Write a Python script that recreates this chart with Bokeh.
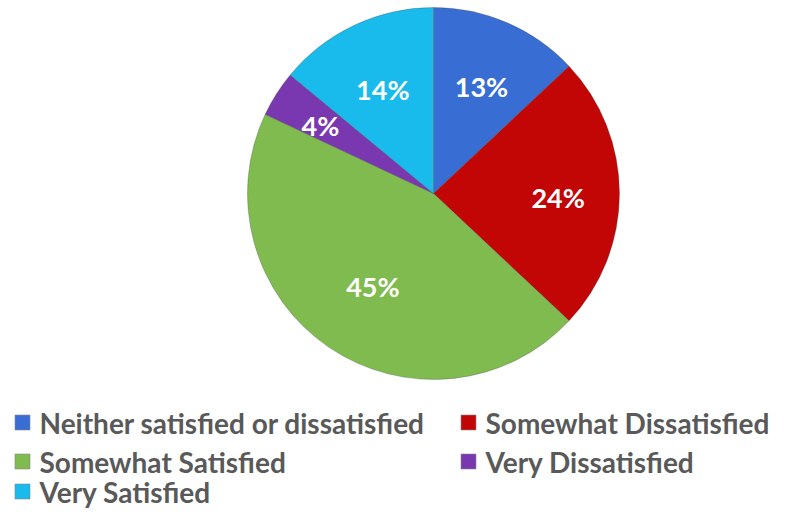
import numpy as np
from bokeh.plotting import figure
from bokeh.models import Range1d
from bokeh.core.properties import value
from bokeh.embed import file_html
from bokeh.resources import INLINE

categories = ["Neither satisfied or dissatisfied", "Somewhat Dissatisfied",
              "Somewhat Satisfied", "Very Dissatisfied", "Very Satisfied"]
values = [13, 24, 45, 4, 14]
colors = ["#386ED4", "#C20606", "#80BB50", "#7A38B0", "#19BAEC"]
labels = [f"{v}%" for v in values]

W, H = 795, 511
p = figure(width=W, height=H, output_backend="svg", toolbar_location=None,
           x_range=Range1d(0, W), y_range=Range1d(0, H), min_border=0)
p.axis.visible = False
p.grid.visible = False
p.outline_line_color = None
p.background_fill_color = "white"

# layout (pixel-based)
cx, cy, r = 433, H - 193, 186
label_frac = [0.65, 0.67, 0.58, 0.72, 0.64]

total = float(sum(values))
fr = np.array(values) / total
cum = np.concatenate([[0], np.cumsum(fr)])
start = np.pi / 2 - cum[1:] * 2 * np.pi
end = np.pi / 2 - cum[:-1] * 2 * np.pi
p.wedge(x=cx, y=cy, radius=r, start_angle=list(start), end_angle=list(end),
        fill_color=colors, line_color="#444444", line_alpha=0.3, line_width=1)

mid = (start + end) / 2
lr = np.array(label_frac) * r
p.text(x=list(cx + lr * np.cos(mid)), y=list(cy + lr * np.sin(mid) - 4), text=labels,
       text_font=value("Lato"), text_font_style="bold", text_font_size="27px",
       text_color="white", text_align="center", text_baseline="middle")

# legend
leg_x = [22, 468, 22, 468, 22]
leg_py = [422, 422, 461, 461, 491]
leg_y = [H - y for y in leg_py]
p.scatter(x=leg_x, y=leg_y, marker="square", size=15,
          fill_color=colors, line_color="#888888", line_width=0.6)
p.text(x=[x + 17 for x in leg_x], y=leg_y, text=categories,
       text_font=value("Lato"), text_font_style="bold", text_font_size="28px",
       text_color="#595959", text_align="left", text_baseline="middle")

open("out.html", "w").write(file_html(p, INLINE))
